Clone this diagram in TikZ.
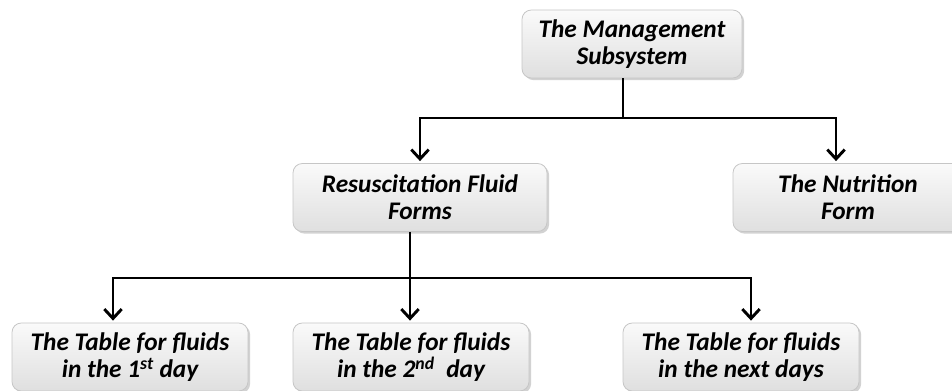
\documentclass[tikz,border=0pt]{standalone}
\usepackage{fontspec}
\setmainfont{Carlito}
\usetikzlibrary{arrows.meta,shadows}
\tikzset{
  box/.style={rounded corners=7pt,draw=gray!45,line width=0.6pt,
    top color=gray!4,bottom color=gray!25,
    drop shadow={shadow xshift=1.6pt,shadow yshift=-1.6pt,fill=gray!70},
    align=center,inner sep=0pt,minimum height=51pt,
    font=\fontsize{19}{20.5}\selectfont\bfseries\itshape},
  link/.style={line width=2.2pt,black},
  arrow/.style={link,-{Straight Barb[length=7pt,width=13pt,line width=2.2pt]},shorten >=1.5pt}
}
\begin{document}
\begin{tikzpicture}[x=0.75pt,y=-0.75pt]
        \useasboundingbox (0,0) rectangle (952,391);
        \clip (0,0) rectangle (952,391);

        % boxes
        \node[box,minimum width=165pt] (mgmt) at (632,44) {The Management\\Subsystem};
        \node[box,minimum width=190.5pt] (resus) at (420,197.5) {Resuscitation Fluid\\Forms};
        \node[box,minimum width=172.5pt] (nutri) at (848,197.5) {The Nutrition\\Form};
        \node[box,minimum width=177pt] (day1) at (130,357) {The Table for fluids\\in the 1\textsuperscript{st} day};
        \node[box,minimum width=177pt] (day2) at (411,357) {The Table for fluids\\in the 2\textsuperscript{nd}\ \ day};
        \node[box,minimum width=177pt] (day3) at (741,357) {The Table for fluids\\in the next days};

        % connectors
        \coordinate (top) at (623,118);
        \coordinate (mid) at (410,278);
        \draw[link] (mgmt.south -| top) -- (top);
        \draw[arrow] (top) -| (resus.north);
        \draw[arrow] (top) -| ([xshift=-9pt]nutri.north);
        \draw[arrow] (resus.south -| mid) -- (day2.north -| mid);
        \draw[arrow] (mid) -| ([xshift=-12.75pt]day1.north);
        \draw[arrow] (mid) -| ([xshift=7.5pt]day3.north);
\end{tikzpicture}
\end{document}
